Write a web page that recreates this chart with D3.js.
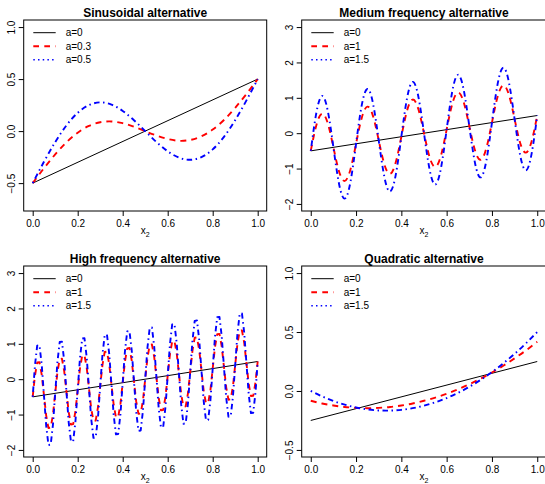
<!DOCTYPE html>
<html>
<head>
<meta charset="utf-8">
<script src="https://cdn.jsdelivr.net/npm/d3@7"></script>
<style>
  body { margin: 0; background: #fff; }
  svg { display: block; }
  text { font-family: "Liberation Sans", Arial, Helvetica, sans-serif; fill: #000; }
</style>
</head>
<body>
<script>
// ---- data ----------------------------------------------------------------
const titles = ["Sinusoidal alternative", "Medium frequency alternative",
                "High frequency alternative", "Quadratic alternative"];
const sinLabels = ["a=0", "a=0.3", "a=0.5"];
const freqLabels = ["a=0", "a=1", "a=1.5"];
const xTicks = [0, 0.2, 0.4, 0.6, 0.8, 1];
const sinYTicks = [-0.5, 0, 0.5, 1];
const freqYTicks = [-2, -1, 0, 1, 2, 3];
const quadYTicks = [-0.5, 0, 0.5, 1];
const sinYLim = [-0.7, 1];
const freqYLim = [-2, 3];
const quadYLim = [-0.5, 1];

// null model: straight line across the unit interval
const lineX = [0, 1];
const sinA0 = [-0.5, 0.5];
const medA0 = [-0.5, 0.5];
const highA0 = [-0.5, 0.5];
const quadA0 = [-0.25, 0.25];

// coarse grid (sinusoidal and quadratic panels)
const coarseX = [0, 0.05, 0.1, 0.15, 0.2, 0.25, 0.3, 0.35, 0.4, 0.45, 0.5,
                 0.55, 0.6, 0.65, 0.7, 0.75, 0.8, 0.85, 0.9, 0.95, 1];
const sinA03 = [-0.5, -0.357, -0.224, -0.107, -0.015, 0.05, 0.085, 0.093, 0.076, 0.043, 0,
                -0.043, -0.076, -0.093, -0.085, -0.05, 0.015, 0.107, 0.224, 0.357, 0.5];
const sinA05 = [-0.5, -0.295, -0.106, 0.055, 0.176, 0.25, 0.276, 0.255, 0.194, 0.105, 0,
                -0.105, -0.194, -0.255, -0.276, -0.25, -0.176, -0.055, 0.106, 0.295, 0.5];
const quadA1 = [-0.083, -0.106, -0.123, -0.136, -0.143, -0.146, -0.143, -0.136, -0.123, -0.106, -0.083,
                -0.056, -0.023, 0.014, 0.057, 0.104, 0.157, 0.214, 0.277, 0.344, 0.417];
const quadA15 = [0, -0.046, -0.085, -0.116, -0.14, -0.156, -0.165, -0.166, -0.16, -0.146, -0.125,
                 -0.096, -0.06, -0.016, 0.035, 0.094, 0.16, 0.234, 0.315, 0.404, 0.5];

// medium frequency grid
const medX = [0, 0.025, 0.05, 0.075, 0.1, 0.125, 0.15, 0.175, 0.2, 0.225, 0.25, 0.275, 0.3, 0.325,
              0.35, 0.375, 0.4, 0.425, 0.45, 0.475, 0.5, 0.525, 0.55, 0.575, 0.6, 0.625, 0.65,
              0.675, 0.7, 0.725, 0.75, 0.775, 0.8, 0.825, 0.85, 0.875, 0.9, 0.925, 0.95, 0.975, 1];
const medA1 = [-0.5, 0.232, 0.55, 0.282, -0.4, -1.082, -1.35, -1.032, -0.3, 0.432, 0.75, 0.482,
               -0.2, -0.882, -1.15, -0.832, -0.1, 0.632, 0.95, 0.682, 0, -0.682, -0.95, -0.632,
               0.1, 0.832, 1.15, 0.882, 0.2, -0.482, -0.75, -0.432, 0.3, 1.032, 1.35, 1.082,
               0.4, -0.282, -0.55, -0.232, 0.5];
const medA15 = [-0.5, 0.586, 1.05, 0.636, -0.4, -1.436, -1.85, -1.386, -0.3, 0.786, 1.25, 0.836,
                -0.2, -1.236, -1.65, -1.186, -0.1, 0.986, 1.45, 1.036, 0, -1.036, -1.45, -0.986,
                0.1, 1.186, 1.65, 1.236, 0.2, -0.836, -1.25, -0.786, 0.3, 1.386, 1.85, 1.436,
                0.4, -0.636, -1.05, -0.586, 0.5];

// high frequency grid
const highX = [0, 0.01, 0.02, 0.03, 0.04, 0.05, 0.06, 0.07, 0.08, 0.09,
               0.1, 0.11, 0.12, 0.13, 0.14, 0.15, 0.16, 0.17, 0.18, 0.19,
               0.2, 0.21, 0.22, 0.23, 0.24, 0.25, 0.26, 0.27, 0.28, 0.29,
               0.3, 0.31, 0.32, 0.33, 0.34, 0.35, 0.36, 0.37, 0.38, 0.39,
               0.4, 0.41, 0.42, 0.43, 0.44, 0.45, 0.46, 0.47, 0.48, 0.49,
               0.5, 0.51, 0.52, 0.53, 0.54, 0.55, 0.56, 0.57, 0.58, 0.59,
               0.6, 0.61, 0.62, 0.63, 0.64, 0.65, 0.66, 0.67, 0.68, 0.69,
               0.7, 0.71, 0.72, 0.73, 0.74, 0.75, 0.76, 0.77, 0.78, 0.79,
               0.8, 0.81, 0.82, 0.83, 0.84, 0.85, 0.86, 0.87, 0.88, 0.89,
               0.9, 0.91, 0.92, 0.93, 0.94, 0.95, 0.96, 0.97, 0.98, 0.99, 1];
const highA1 = [-0.5, 0.1, 0.47, 0.48, 0.13, -0.45, -1.03, -1.38, -1.37, -1,
                -0.4, 0.2, 0.57, 0.58, 0.23, -0.35, -0.93, -1.28, -1.27, -0.9,
                -0.3, 0.3, 0.67, 0.68, 0.33, -0.25, -0.83, -1.18, -1.17, -0.8,
                -0.2, 0.4, 0.77, 0.78, 0.43, -0.15, -0.73, -1.08, -1.07, -0.7,
                -0.1, 0.5, 0.87, 0.88, 0.53, -0.05, -0.63, -0.98, -0.97, -0.6,
                0, 0.6, 0.97, 0.98, 0.63, 0.05, -0.53, -0.88, -0.87, -0.5,
                0.1, 0.7, 1.07, 1.08, 0.73, 0.15, -0.43, -0.78, -0.77, -0.4,
                0.2, 0.8, 1.17, 1.18, 0.83, 0.25, -0.33, -0.68, -0.67, -0.3,
                0.3, 0.9, 1.27, 1.28, 0.93, 0.35, -0.23, -0.58, -0.57, -0.2,
                0.4, 1, 1.37, 1.38, 1.03, 0.45, -0.13, -0.48, -0.47, -0.1, 0.5];
const highA15 = [-0.5, 0.39, 0.95, 0.96, 0.42, -0.45, -1.32, -1.86, -1.85, -1.29,
                 -0.4, 0.49, 1.05, 1.06, 0.52, -0.35, -1.22, -1.76, -1.75, -1.19,
                 -0.3, 0.59, 1.15, 1.16, 0.62, -0.25, -1.12, -1.66, -1.65, -1.09,
                 -0.2, 0.69, 1.25, 1.26, 0.72, -0.15, -1.02, -1.56, -1.55, -0.99,
                 -0.1, 0.79, 1.35, 1.36, 0.82, -0.05, -0.92, -1.46, -1.45, -0.89,
                 0, 0.89, 1.45, 1.46, 0.92, 0.05, -0.82, -1.36, -1.35, -0.79,
                 0.1, 0.99, 1.55, 1.56, 1.02, 0.15, -0.72, -1.26, -1.25, -0.69,
                 0.2, 1.09, 1.65, 1.66, 1.12, 0.25, -0.62, -1.16, -1.15, -0.59,
                 0.3, 1.19, 1.75, 1.76, 1.22, 0.35, -0.52, -1.06, -1.05, -0.49,
                 0.4, 1.29, 1.85, 1.86, 1.32, 0.45, -0.42, -0.96, -0.95, -0.39, 0.5];

// ---- layout & styles -----------------------------------------------------
const W = 545, H = 484;
const colBox = [[23.7, 266.7], [301.7, 546.3]];
const rowBox = [[20, 211], [266, 457]];

const styles = [
  { color: "#000", width: 1, dash: null },                  // a=0, solid
  { color: "#ff0000", width: 1.9, dash: "6,5" },            // dashed
  { color: "#0000ff", width: 1.9, dash: "1.5,3.5,5.5,3.5" } // dot-dash
];
const legendStyles = [
  { color: "#000", width: 1, dash: null },
  { color: "#ff0000", width: 1.9, dash: "5.7,5.3" },
  { color: "#0000ff", width: 1.6, dash: "1.5,3.2" }
];

const panels = [
  { title: titles[0], row: 0, col: 0, yLim: sinYLim, yTicks: sinYTicks, fmt: ".1f",
    labels: sinLabels, curve: d3.curveNatural,
    series: [[lineX, sinA0], [coarseX, sinA03], [coarseX, sinA05]] },
  { title: titles[1], row: 0, col: 1, yLim: freqYLim, yTicks: freqYTicks, fmt: "d",
    labels: freqLabels, curve: d3.curveNatural,
    series: [[lineX, medA0], [medX, medA1], [medX, medA15]] },
  { title: titles[2], row: 1, col: 0, yLim: freqYLim, yTicks: freqYTicks, fmt: "d",
    labels: freqLabels, curve: d3.curveLinear,
    series: [[lineX, highA0], [highX, highA1], [highX, highA15]] },
  { title: titles[3], row: 1, col: 1, yLim: quadYLim, yTicks: quadYTicks, fmt: ".1f",
    labels: freqLabels, curve: d3.curveNatural,
    series: [[lineX, quadA0], [coarseX, quadA1], [coarseX, quadA15]] }
];

const svg = d3.select("body").append("svg").attr("width", W).attr("height", H);
svg.append("rect").attr("width", W).attr("height", H).attr("fill", "#fff");

panels.forEach((p, pi) => {
  const [x0, x1] = colBox[p.col];
  const [y0, y1] = rowBox[p.row];   // top, bottom
  const xs = d3.scaleLinear().domain([-0.04, 1.04]).range([x0, x1]);
  const span = p.yLim[1] - p.yLim[0];
  const ys = d3.scaleLinear()
    .domain([p.yLim[0] - 0.04 * span, p.yLim[1] + 0.04 * span])
    .range([y1, y0]);

  const g = svg.append("g");

  // curves (clipped to plotting region), black first, then red, then blue
  const clipId = "clip" + pi;
  svg.append("clipPath").attr("id", clipId)
    .append("rect").attr("x", x0).attr("y", y0).attr("width", x1 - x0).attr("height", y1 - y0);
  const cg = g.append("g").attr("clip-path", `url(#${clipId})`);
  p.series.forEach(([sx, sy], si) => {
    const st = styles[si];
    const pts = sx.map((v, i) => [v, sy[i]]);
    const line = d3.line().x(d => xs(d[0])).y(d => ys(d[1]))
      .curve(si === 0 ? d3.curveLinear : p.curve);
    cg.append("path").attr("d", line(pts))
      .attr("fill", "none").attr("stroke", st.color).attr("stroke-width", st.width)
      .attr("stroke-dasharray", st.dash).attr("stroke-linejoin", "round");
  });

  // box
  g.append("rect").attr("x", x0).attr("y", y0).attr("width", x1 - x0).attr("height", y1 - y0)
    .attr("fill", "none").attr("stroke", "#000").attr("stroke-width", 1);

  // x axis
  const xa = g.append("g").attr("transform", `translate(0,${y1})`)
    .call(d3.axisBottom(xs).tickValues(xTicks).tickSize(5).tickFormat(d3.format(".1f")));
  xa.select(".domain").remove();
  xa.selectAll("line").attr("stroke", "#000");
  xa.selectAll("text").attr("y", 16.3).attr("dy", null)
    .attr("font-size", 10).attr("fill", "#000");
  xa.attr("font-family", null).attr("font-size", null);

  // y axis with labels rotated parallel to the axis
  const ya = g.append("g").attr("transform", `translate(${x0},0)`)
    .call(d3.axisLeft(ys).tickValues(p.yTicks).tickSize(5).tickFormat(d3.format(p.fmt)));
  ya.select(".domain").remove();
  ya.selectAll("line").attr("stroke", "#000");
  ya.selectAll("text").attr("x", null).attr("dy", null)
    .attr("transform", "translate(-8.3,0) rotate(-90)")
    .attr("text-anchor", "middle")
    .attr("font-size", 10).attr("fill", "#000");
  ya.attr("font-family", null).attr("font-size", null);

  // title
  const tx = (x0 + x1) / 2;
  g.append("text").attr("x", tx).attr("y", y0 - 3.4)
    .attr("text-anchor", "middle").attr("font-weight", "bold").attr("font-size", 12)
    .text(p.title);

  // x label: x with subscript 2
  const xl = g.append("text").attr("x", tx).attr("y", y1 + 22.5)
    .attr("text-anchor", "middle").attr("font-size", 10);
  xl.append("tspan").text("x");
  xl.append("tspan").attr("font-size", 7).attr("dy", 3.5).text("2");

  // legend
  p.labels.forEach((lab, li) => {
    const ly = y0 + 12.7 + li * 13.5;
    const st = legendStyles[li];
    g.append("line").attr("x1", x0 + 9.6).attr("x2", x0 + 32).attr("y1", ly).attr("y2", ly)
      .attr("stroke", st.color).attr("stroke-width", st.width)
      .attr("stroke-dasharray", st.dash);
    g.append("text").attr("x", x0 + 42).attr("y", ly + 3.6)
      .attr("font-size", 10).text(lab);
  });
});
</script>
</body>
</html>
